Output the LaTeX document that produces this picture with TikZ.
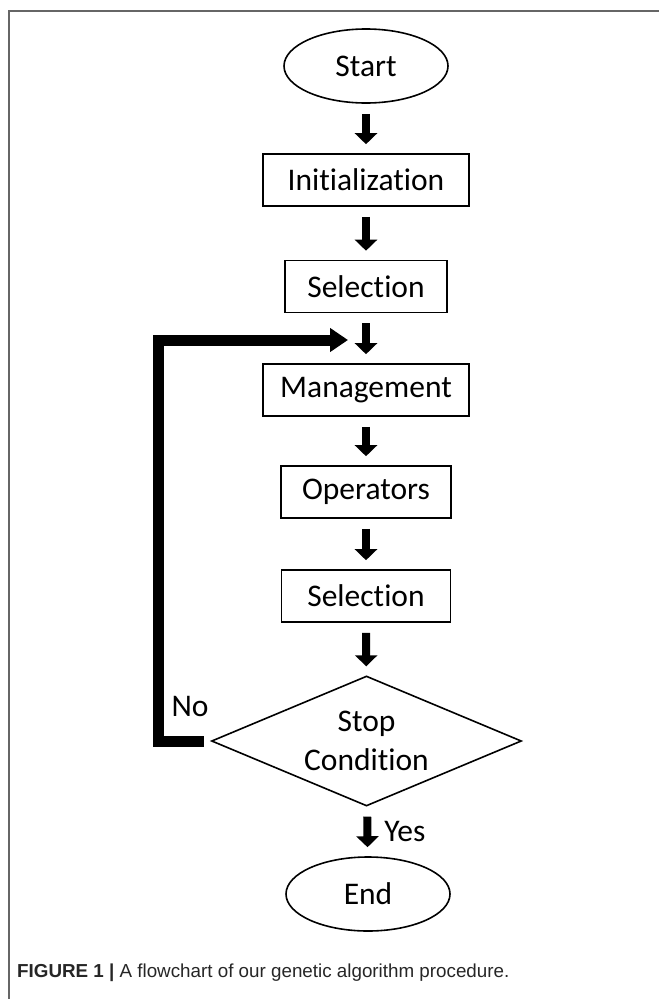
\documentclass[tikz,border=0pt]{standalone}
\usepackage{fontspec}
\setmainfont{Carlito}[Ligatures=NoCommon,Contextuals=NoAlternate]
\newfontfamily\capfont{Liberation Sans}
\usetikzlibrary{shapes.geometric,arrows.meta}

\begin{document}
\begin{tikzpicture}[x=1pt,y=-1pt,
    box/.style={draw,line width=1.6pt,minimum height=52pt,inner sep=0pt,font=\fontsize{31.5}{39}\selectfont},
    oval/.style={draw,ellipse,line width=1.6pt,minimum width=164pt,minimum height=74pt,inner sep=0pt,font=\fontsize{31.5}{39}\selectfont},
    decision/.style={draw,diamond,aspect=2.385,line width=1.6pt,minimum width=310pt,minimum height=130pt,inner sep=0pt,align=center,font=\fontsize{31.5}{39}\selectfont},
    flow/.style={line width=8pt,-{Triangle[length=11pt,width=22pt]},shorten <=10pt,shorten >=9pt},
    back/.style={line width=11pt,-{Triangle[length=18pt,width=23pt]}}]
    \useasboundingbox (0,0) rectangle (659,999);
    \draw[black!60,line width=2pt] (9.3,999) -- (9.3,10.7) -- (659,10.7);
    \node[oval] (start) at (366,66) {Start};
    \node[box,minimum width=206pt] (init) at (366,180) {Initialization};
    \node[box,minimum width=162pt] (sel1) at (366,286.5) {Selection};
    \node[box,minimum width=206pt] (mgmt) at (366,390) {Management};
    \node[box,minimum width=170pt] (ops) at (366,492) {Operators};
    \node[box,minimum width=169pt] (sel2) at (366,596) {Selection};
    \node[decision] (cond) at (366.5,741) {Stop\\Condition};
    \node[oval] (finish) at (368,894) {End};
    \node[font=\fontsize{31.5}{39}\selectfont,inner sep=0pt] (nolbl) at (190,706) {No};
    \coordinate (loopdown) at (158.5,741);
    \coordinate (loopup) at (158.5,340);
    \coordinate (looptip) at (348,340);
    \draw[flow] (start) -- (init);
    \draw[flow] (init) -- (sel1);
    \draw[flow] (sel1) -- (mgmt);
    \draw[flow] (mgmt) -- (ops);
    \draw[flow] (ops) -- (sel2);
    \draw[flow] (sel2) -- (cond);
    \draw[flow] (cond) -- node[right=13pt,inner sep=0pt,font=\fontsize{31.5}{39}\selectfont] (yeslbl) {Yes} (finish);
    \draw[back,shorten <=7pt] (cond.west) -- (loopdown) -- (loopup) -- (looptip);
    \node[anchor=base west,inner sep=0pt,text=black!85,font=\capfont\fontsize{18.8}{22}\selectfont] (caption) at (17,977)
        {\textbf{FIGURE 1 |} A flowchart of our genetic algorithm procedure.};
\end{tikzpicture}
\end{document}
